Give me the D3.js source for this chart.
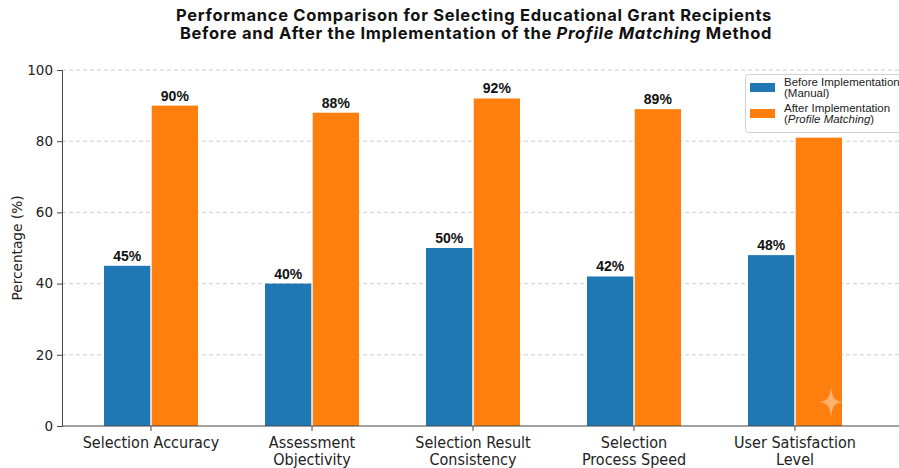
<!DOCTYPE html>
<html><head><meta charset="utf-8">
<script src="https://cdn.jsdelivr.net/npm/d3@7"></script>
<style>
body{margin:0;background:#fff;}
svg{display:block;}
</style></head>
<body>
<svg id="chart" width="899" height="468"></svg>
<script>
const categories = [
  ["Selection Accuracy"],
  ["Assessment", "Objectivity"],
  ["Selection Result", "Consistency"],
  ["Selection", "Process Speed"],
  ["User Satisfaction", "Level"]
];
const beforeValues = [45, 40, 50, 42, 48];
const afterValues = [90, 88, 92, 89, 81];
const afterLabels = ["90%", "88%", "92%", "89%", ""];
const beforeLabels = ["45%", "40%", "50%", "42%", "48%"];
const yTicks = [0, 20, 40, 60, 80, 100];
const seriesNames = ["before", "after"];
const colors = {before: "#1f77b4", after: "#ff7f0e"};

(function(){
const svg = d3.select("#chart");
const mLeft = 62, mRight = 899, mTop = 70, mBottom = 426;
const catKeys = categories.map(c => c.join(" "));

const x = d3.scaleBand().domain(catKeys).range([70.5, 875.5]).padding(0);
const x1 = d3.scaleBand().domain(seriesNames).range([-47, 47]).paddingInner(0.03);
const y = d3.scaleLinear().domain([0, 100]).range([mBottom, mTop]);
const cx = k => x(k) + x.bandwidth() / 2;

// grid
svg.append("g").selectAll("line").data(yTicks.filter(t => t > 0)).join("line")
  .attr("x1", mLeft).attr("x2", mRight)
  .attr("y1", d => y(d)).attr("y2", d => y(d))
  .attr("stroke", "#c8c8c8").attr("stroke-width", 0.9).attr("stroke-dasharray", "4,3");

// bars
const data = catKeys.map((k, i) => ({k, i, before: beforeValues[i], after: afterValues[i]}));
seriesNames.forEach(s => {
  svg.append("g").selectAll("rect").data(data).join("rect")
    .attr("x", d => cx(d.k) + x1(s))
    .attr("width", x1.bandwidth())
    .attr("y", d => y(d[s]))
    .attr("height", d => mBottom - y(d[s]))
    .attr("fill", colors[s]);
});

// value labels
const lab = svg.append("g").attr("font-family", "Liberation Sans, Arial, sans-serif")
  .attr("font-weight", "bold").attr("font-size", 14).attr("text-anchor", "middle").attr("fill", "#111");
data.forEach(d => {
  lab.append("text").attr("x", cx(d.k) + x1("before") + x1.bandwidth()/2).attr("y", y(d.before) - 5).text(beforeLabels[d.i]);
  if (afterLabels[d.i]) lab.append("text").attr("x", cx(d.k) + x1("after") + x1.bandwidth()/2).attr("y", y(d.after) - 5).text(afterLabels[d.i]);
});

// sparkle watermark
svg.append("path")
  .attr("d", "M0,-15 C1.5,-3.5 3.5,-1.5 12,0 C3.5,1.5 1.5,3.5 0,15 C-1.5,3.5 -3.5,1.5 -12,0 C-3.5,-1.5 -1.5,-3.5 0,-15Z")
  .attr("transform", "translate(831,402)")
  .attr("fill", "#ffffff").attr("opacity", 0.4);

// y axis
const yAxis = d3.axisLeft(y).tickValues(yTicks).tickSize(5).tickPadding(4);
const gy = svg.append("g").attr("transform", `translate(${mLeft},0)`).call(yAxis);
gy.select(".domain").attr("stroke", "#444");
gy.selectAll(".tick line").attr("stroke", "#444");
gy.selectAll("text").attr("font-family", "DejaVu Sans, sans-serif").attr("font-size", 13.5).attr("fill", "#222");

// x axis
svg.append("line").attr("x1", mLeft).attr("x2", mRight).attr("y1", mBottom).attr("y2", mBottom).attr("stroke", "#444");
const gx = svg.append("g").attr("transform", `translate(0,${mBottom})`)
  .call(d3.axisBottom(x).tickSize(5).tickFormat(""));
gx.select(".domain").remove();
gx.selectAll(".tick line").attr("stroke", "#444");
const xl = svg.append("g").attr("font-family", "DejaVu Sans Condensed, DejaVu Sans, sans-serif")
  .attr("font-stretch", "condensed").attr("font-size", 16).attr("text-anchor", "middle").attr("fill", "#222");
categories.forEach((lines, i) => {
  const t = xl.append("text").attr("x", cx(catKeys[i])).attr("y", 448);
  lines.forEach((ln, j) => t.append("tspan").attr("x", cx(catKeys[i])).attr("dy", j ? 16.5 : 0).text(ln));
});

// y label
svg.append("text").attr("transform", "translate(22,248) rotate(-90)")
  .attr("text-anchor", "middle").attr("font-family", "DejaVu Sans, sans-serif").attr("font-size", 13.7)
  .attr("fill", "#222").text("Percentage (%)");

// title
const tt = svg.append("g").attr("font-family", "Inter, Liberation Sans, Arial, sans-serif").attr("font-weight", "bold")
  .attr("font-size", 16.5).attr("letter-spacing", 0.7).attr("text-anchor", "middle").attr("fill", "#111");
tt.append("text").attr("x", 474).attr("y", 21).text("Performance Comparison for Selecting Educational Grant Recipients");
const t2 = tt.append("text").attr("x", 476).attr("y", 39);
t2.append("tspan").text("Before and After the Implementation of the ");
t2.append("tspan").attr("font-style", "italic").text("Profile Matching");
t2.append("tspan").text(" Method");

// legend
const lg = svg.append("g");
lg.append("rect").attr("x", 745.5).attr("y", 74.5).attr("width", 170).attr("height", 58).attr("rx", 3)
  .attr("fill", "#fff").attr("stroke", "#d0d0d0");
const legendItems = [
  {s: "before", l1: [["Before Implementation", "normal"]], l2: [["(Manual)", "normal"]], y: 83},
  {s: "after", l1: [["After Implementation", "normal"]], l2: [["(", "normal"], ["Profile Matching", "italic"], [")", "normal"]], y: 109}
];
legendItems.forEach(it => {
  lg.append("rect").attr("x", 750).attr("y", it.y).attr("width", 25).attr("height", 9).attr("fill", colors[it.s]);
  const t = lg.append("text").attr("font-family", "Liberation Sans, Arial, sans-serif").attr("font-size", 11.5).attr("fill", "#222");
  const a = t.append("tspan").attr("x", 784).attr("y", it.y + 3);
  it.l1.forEach(p => a.append("tspan").attr("font-style", p[1]).text(p[0]));
  const b = t.append("tspan").attr("x", 784).attr("y", it.y + 14);
  it.l2.forEach(p => b.append("tspan").attr("font-style", p[1]).text(p[0]));
});
})();
</script>
</body></html>
